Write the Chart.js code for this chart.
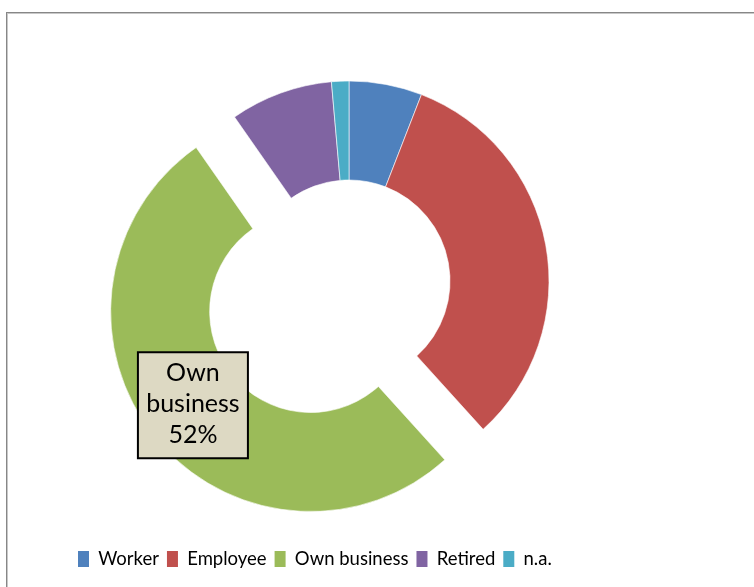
<!DOCTYPE html>
<html>
<head>
<meta charset="utf-8">
<title>Occupation</title>
<script src="https://cdn.jsdelivr.net/npm/chart.js@4.4.1/dist/chart.umd.min.js"></script>
<style>
  html, body { margin: 0; padding: 0; background: #fff; }
  #wrap { position: relative; width: 754px; height: 587px; overflow: hidden; }
  #frame {
    position: absolute; left: 6px; top: 12px; width: 800px; height: 640px;
    border: 1px solid #878787; box-shadow: inset 1px 1px 0 #c8c8c8;
  }
  #chart-box { position: absolute; left: 0; top: 0; width: 754px; height: 587px; }
</style>
</head>
<body>
<div id="wrap">
  <div id="frame"></div>
  <div id="chart-box"><canvas id="chart-occupation"></canvas></div>
</div>
<script>
const categories = ['Worker', 'Employee', 'Own business', 'Retired', 'n.a.'];
const shares = [5.9, 32.4, 52, 8.3, 1.4];
const sliceColors = ['#4F81BD', '#C0504D', '#9BBB59', '#8064A2', '#4BACC6'];

// slice pulled out of the ring, and the one that gets a callout box
const explodedSlice = 'Own business';
const labelledSlice = 'Own business';
const EXPLODE_PX = 49;

const explodePlugin = {
    id: 'explodeSlice',
    afterDatasetUpdate(chart, args) {
        args.meta.data.forEach((arc, i) => {
            if (categories[i] !== explodedSlice || arc.$exploded) return;
            const baseDraw = arc.draw;
            arc.draw = function (ctx) {
                const mid = (this.startAngle + this.endAngle) / 2;
                ctx.save();
                ctx.translate(Math.cos(mid) * EXPLODE_PX, Math.sin(mid) * EXPLODE_PX);
                baseDraw.call(this, ctx);
                ctx.restore();
            };
            arc.$exploded = true;
        });
    }
};

const calloutPlugin = {
    id: 'sliceCallout',
    afterDatasetsDraw(chart) {
        const i = categories.indexOf(labelledSlice);
        const arc = chart.getDatasetMeta(0).data[i];
        const mid = (arc.startAngle + arc.endAngle) / 2;
        const shift = categories[i] === explodedSlice ? EXPLODE_PX : 0;
        const rMid = (arc.innerRadius + arc.outerRadius) / 2 + shift;
        const cx = arc.x + Math.cos(mid) * rMid;
        const cy = arc.y + Math.sin(mid) * rMid;
        const lines = [...categories[i].split(' '), Math.round(shares[i]) + '%'];

        const w = 110, h = 106, lh = 31;
        const ctx = chart.ctx;
        ctx.save();
        ctx.fillStyle = '#DDD9C3';
        ctx.fillRect(cx - w / 2, cy - h / 2, w, h);
        ctx.lineWidth = 2;
        ctx.strokeStyle = '#000';
        ctx.strokeRect(cx - w / 2, cy - h / 2, w, h);
        ctx.fillStyle = '#000';
        ctx.font = '25px Lato';
        ctx.textAlign = 'center';
        ctx.textBaseline = 'middle';
        lines.forEach((t, k) => {
            ctx.fillText(t, cx, cy - 1 + (k - (lines.length - 1) / 2) * lh);
        });
        ctx.restore();
    }
};

function drawChart() {
    const ctx = document.getElementById('chart-occupation').getContext('2d');
    new Chart(ctx, {
        type: 'doughnut',
        data: {
            labels: categories,
            datasets: [{
                data: shares,
                backgroundColor: sliceColors,
                borderColor: 'rgba(255,255,255,0.6)',
                borderWidth: 1,
                hoverOffset: 0,
                radius: 200
            }]
        },
        options: {
            responsive: true,
            maintainAspectRatio: false,
            animation: false,
            cutout: '50.5%',
            layout: { padding: { left: 70, right: 126, top: 20.25, bottom: 8.75 } },
            plugins: {
                tooltip: { enabled: false },
                legend: {
                    position: 'bottom',
                    align: 'start',
                    labels: {
                        color: '#000',
                        font: { family: 'Lato', size: 18.5 },
                        boxWidth: 11,
                        boxHeight: 16,
                        padding: 8,
                        generateLabels: () => categories.map((c, i) => ({
                            text: c,
                            fillStyle: sliceColors[i],
                            strokeStyle: sliceColors[i],
                            lineWidth: 0,
                            hidden: false,
                            index: i
                        }))
                    }
                }
            }
        },
        plugins: [explodePlugin, calloutPlugin]
    });
}

Promise.all([
    document.fonts.load('25px Lato'),
    document.fonts.load('18.5px Lato')
]).then(drawChart, drawChart);
</script>
</body>
</html>
